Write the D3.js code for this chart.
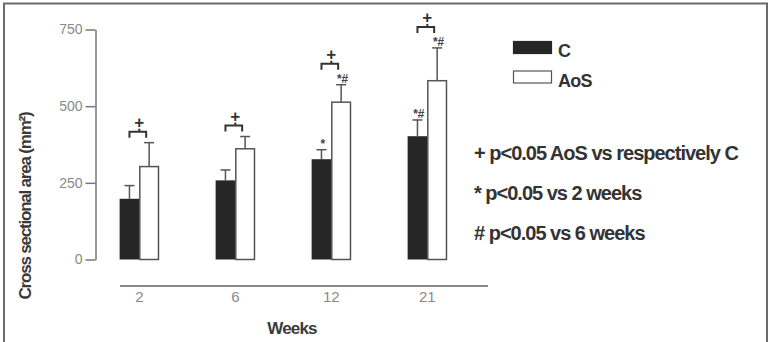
<!DOCTYPE html>
<html>
<head>
<meta charset="utf-8">
<script src="https://cdn.jsdelivr.net/npm/d3@7"></script>
<style>
  body { margin: 0; background: #fff; }
  text { font-family: "Liberation Sans", Arial, sans-serif; }
</style>
</head>
<body>
<div id="chart"></div>
<script>
// data
var weeks = ['2', '6', '12', '21'];
var series = ['C', 'AoS'];
var meanC = [198, 258, 327, 402];
var errC = [241, 292, 358, 455];
var meanAoS = [303, 361, 513, 583];
var errAoS = [381, 401, 570, 690];
var markC = ['', '', '*', '*#'];
var markAoS = ['', '', '*#', '*#'];
var yTicks = [0, 250, 500, 750];
var notes = ['+ p<0.05 AoS vs respectively C', '* p<0.05 vs 2 weeks', '# p<0.05 vs 6 weeks'];

var W = 771, H = 342;
var svg = d3.select('#chart').append('svg')
    .attr('width', W).attr('height', H);

// frame
svg.append('path')
    .attr('d', 'M4,' + (H + 5) + 'V3.5H767V' + (H + 5))
    .attr('fill', 'none').attr('stroke', '#6a6a6a').attr('stroke-width', 2);

var y = d3.scaleLinear().domain([0, 750]).range([259.5, 29.5]);

var x0 = d3.scaleBand().domain(weeks).range([91.3, 475.3])
    .paddingInner(0.59).paddingOuter(0.295);
var x1 = d3.scaleBand().domain(series).range([0, x0.bandwidth()]);

// y axis
var yAx = svg.append('g').attr('transform', 'translate(95.5,0)')
    .call(d3.axisLeft(y).tickValues(yTicks).tickSize(10).tickSizeOuter(0).tickPadding(3));
yAx.select('.domain').attr('stroke', '#777').attr('stroke-width', 1.5);
yAx.selectAll('.tick line').attr('stroke', '#777').attr('stroke-width', 1.5);
yAx.selectAll('.tick text').attr('fill', '#8a8a8a').style('font-size', '14px')
    .style('font-family', '"Liberation Sans", Arial, sans-serif');

// x axis
var xAx = svg.append('g').attr('transform', 'translate(0,286)')
    .call(d3.axisBottom(x0).tickSize(0).tickPadding(5));
xAx.select('.domain').remove();
xAx.append('line').attr('x1', 120).attr('x2', 488)
    .attr('stroke', '#888').attr('stroke-width', 2);
xAx.selectAll('.tick text').attr('fill', '#8a8a8a').style('font-size', '15px')
    .style('font-family', '"Liberation Sans", Arial, sans-serif');

var rows = weeks.map(function(w, i) {
    return {w: w, c: meanC[i], ce: errC[i], a: meanAoS[i], ae: errAoS[i], mc: markC[i], ma: markAoS[i]};
});

var g = svg.selectAll('.grp').data(rows).enter().append('g')
    .attr('class', 'grp')
    .attr('transform', function(d) { return 'translate(' + x0(d.w) + ',0)'; });

var bw = x1.bandwidth();

// error bars (drawn first, bars cover the lower part)
function errBar(sel, key, ekey, s) {
    sel.append('line')
        .attr('x1', x1(s) + bw / 2).attr('x2', x1(s) + bw / 2)
        .attr('y1', function(d) { return y(d[key]); })
        .attr('y2', function(d) { return y(d[ekey]); })
        .attr('stroke', '#555').attr('stroke-width', 1.5);
    sel.append('line')
        .attr('x1', x1(s) + bw / 2 - 5).attr('x2', x1(s) + bw / 2 + 5)
        .attr('y1', function(d) { return y(d[ekey]); })
        .attr('y2', function(d) { return y(d[ekey]); })
        .attr('stroke', '#555').attr('stroke-width', 1.5);
}
errBar(g, 'c', 'ce', 'C');
errBar(g, 'a', 'ae', 'AoS');

// bars
g.append('rect')
    .attr('x', x1('C')).attr('width', bw)
    .attr('y', function(d) { return y(d.c); })
    .attr('height', function(d) { return y(0) - y(d.c); })
    .attr('fill', '#262626');
g.append('rect')
    .attr('x', x1('AoS') + 0.5).attr('width', bw - 1)
    .attr('y', function(d) { return y(d.a); })
    .attr('height', function(d) { return y(0) - y(d.a); })
    .attr('fill', '#fff').attr('stroke', '#555').attr('stroke-width', 1.5);

// significance marks above error bars
g.append('text')
    .attr('x', x1('C') + bw / 2 + 1)
    .attr('y', function(d) { return y(d.ce) - 2; })
    .attr('text-anchor', 'middle').attr('fill', '#444')
    .style('font-size', '12px').style('font-weight', 'bold').style('font-style', 'italic')
    .text(function(d) { return d.mc; });
g.append('text')
    .attr('x', x1('AoS') + bw / 2 + 1)
    .attr('y', function(d) { return y(d.ae) - 2; })
    .attr('text-anchor', 'middle').attr('fill', '#444')
    .style('font-size', '12px').style('font-weight', 'bold').style('font-style', 'italic')
    .text(function(d) { return d.ma; });

// bracket with "+"
function bracketY(d) { return y(d.ae) - (d.ma ? 21 : 11); }
g.append('path')
    .attr('d', function(d) {
        var by = bracketY(d), l = x1('C') + bw / 2, r = x1('AoS') + bw / 2 - 3, m = bw;
        return 'M' + l + ',' + (by + 6) + 'V' + by + 'H' + r + 'V' + (by + 6) +
            'M' + m + ',' + by + 'V' + (by - 3);
    })
    .attr('fill', 'none').attr('stroke', '#333').attr('stroke-width', 2);
g.append('text')
    .attr('x', bw).attr('y', function(d) { return bracketY(d) - 3.5; })
    .attr('text-anchor', 'middle').attr('fill', '#333')
    .style('font-size', '17px').style('font-weight', 'bold')
    .text('+');

// axis titles
svg.append('text')
    .attr('transform', 'translate(31,206) rotate(-90)')
    .attr('text-anchor', 'middle').attr('fill', '#3a3a3a')
    .style('font-size', '17px').style('font-weight', 'bold').style('letter-spacing', '-1.2px')
    .text('Cross sectional area (mm²)');
svg.append('text')
    .attr('x', 292).attr('y', 334)
    .attr('text-anchor', 'middle').attr('fill', '#3a3a3a')
    .style('font-size', '17px').style('font-weight', 'bold').style('letter-spacing', '-0.8px')
    .text('Weeks');

// legend
var leg = svg.selectAll('.leg').data(series).enter().append('g')
    .attr('class', 'leg')
    .attr('transform', function(d, i) { return 'translate(513,' + (41 + i * 29.5) + ')'; });
leg.append('rect')
    .attr('x', 0.5).attr('y', 0.5).attr('width', 38).attr('height', 12)
    .attr('fill', function(d) { return d === 'C' ? '#262626' : '#fff'; })
    .attr('stroke', function(d) { return d === 'C' ? '#262626' : '#555'; })
    .attr('stroke-width', 1.2);
leg.append('text')
    .attr('x', 45).attr('y', 16)
    .attr('fill', '#333')
    .style('font-size', '18px').style('font-weight', 'bold').style('letter-spacing', '-0.8px')
    .text(function(d) { return d; });

// notes
svg.selectAll('.note').data(notes).enter().append('text')
    .attr('class', 'note')
    .attr('x', 474).attr('y', function(d, i) { return 160 + i * 40; })
    .attr('fill', '#333')
    .style('font-size', '20px').style('font-weight', 'bold').style('letter-spacing', '-1px')
    .text(function(d) { return d; });
</script>
</body>
</html>
